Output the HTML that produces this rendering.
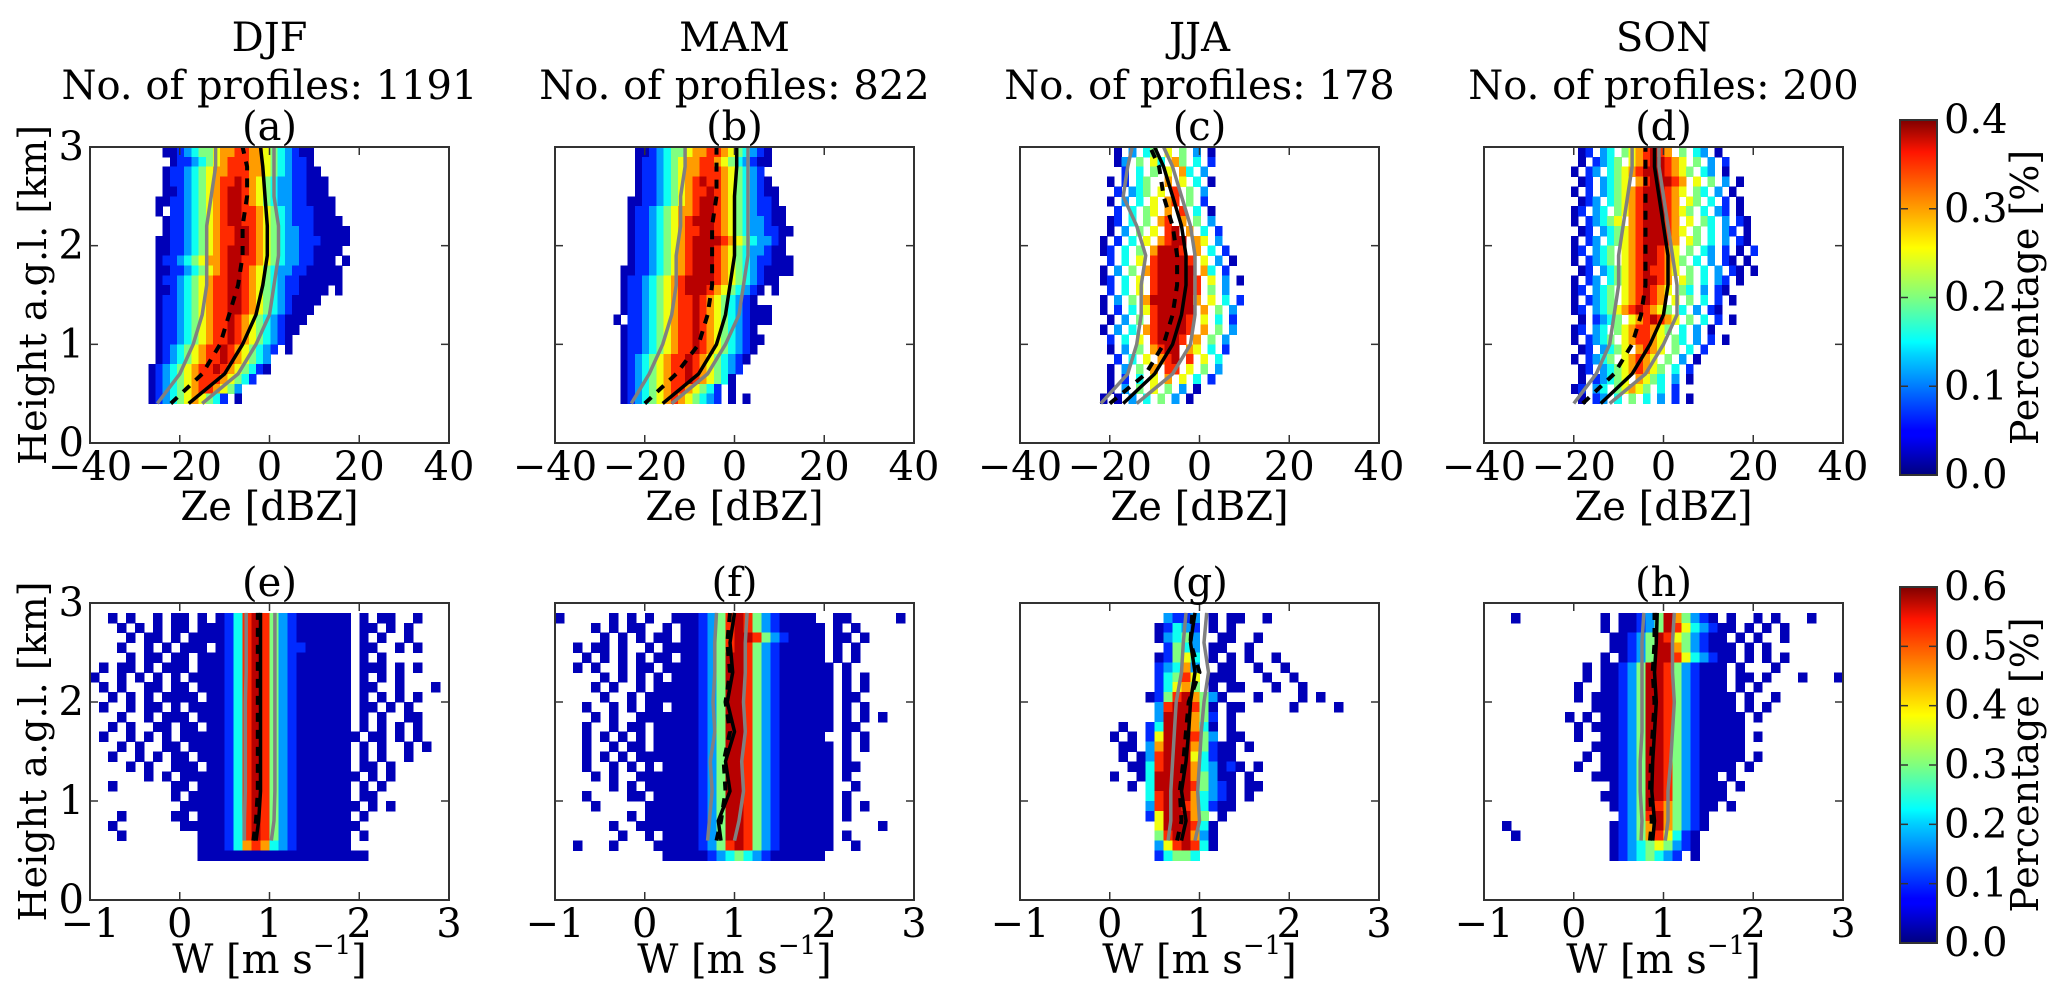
<!DOCTYPE html>
<html><head><meta charset="utf-8"><style>
html,body{margin:0;padding:0;background:#fff;}
svg{display:block;font-family:"DejaVu Serif","Liberation Serif",serif;}
</style></head><body>
<svg id="fig" width="2067" height="1000" viewBox="0 0 2067 1000" xmlns="http://www.w3.org/2000/svg">
<defs>
<linearGradient id="jet" x1="0" y1="1" x2="0" y2="0">
<stop offset="0" stop-color="#00007f"/><stop offset="0.11" stop-color="#0000ff"/><stop offset="0.125" stop-color="#0000ff"/>
<stop offset="0.34" stop-color="#00d4ff"/><stop offset="0.375" stop-color="#00ffff"/><stop offset="0.5" stop-color="#7fff7f"/>
<stop offset="0.64" stop-color="#ffff00"/><stop offset="0.91" stop-color="#ff1400"/><stop offset="1" stop-color="#7f0000"/>
</linearGradient>
</defs>
</svg>
<script>
// ---- data ----
const seasons = ["DJF","MAM","JJA","SON"];
const profileCounts = [1191, 822, 178, 200];
const topLetters = ["(a)","(b)","(c)","(d)"];
const botLetters = ["(e)","(f)","(g)","(h)"];
const zeTicks = [-40,-20,0,20,40];
const zeTickLabels = ["\u221240","\u221220","0","20","40"];
const wTicks = [-1,0,1,2,3];
const wTickLabels = ["\u22121","0","1","2","3"];
const hTicks = [0,1,2,3];
const cbTicksTop = ["0.0","0.1","0.2","0.3","0.4"];
const cbTicksBot = ["0.0","0.1","0.2","0.3","0.4","0.5","0.6"];
// heatmap rows, top (2.9 km) to bottom (0.4 km); Ze bins 1.6 dBZ from -35; level 1..9
const zeGridA = [
".......112345567788776543211............",
"........12234567888776543221............",
".......1223456778887765432211...........",
".......12234567889876543322111..........",
".......11234567899876543322111..........",
"......1122345678998765433221111.........",
"......1.22345678998876543222111.........",
".......1223456789988765432221111........",
".......12234567889987654332211111.......",
"......112234567889987654332221111.......",
"......11223456789998765433221111........",
"......1223456778998876543322111.1.......",
"......11223456789987654332211111.......",
"......12234567889987654322111111.......",
"......112345678899876543221111.1........",
"......12234567889987654321111...........",
"......1223456788998765432111............",
"......122345678898765432111.............",
"......12234567889876543211..............",
"......1223456788987654321...............",
"......12345678898765432.1...............",
"......1234567889876543..................",
".....12345678898765421..................",
".....123456788876542....................",
".....1234567887653......................",
".....12345676542.1......................"];
const zeGridB = [
"........1123455677887654321.............",
"........1223456778876543211.............",
"........122345677888765432..............",
"........1223456789887654321.............",
"........12234567889876543211............",
".......112234567899876543221............",
".......1223456778998765432211...........",
".......1223456789998765433211...........",
".......12234567889987654332211..........",
".......1223456789999876543321...........",
".......1223456789998765433211...........",
".......12234567899987654322111..........",
"......112234567899987654321111..........",
"......1223456789999876543211............",
"......12234567899987654321.1............",
"......1223456788987654321...............",
"......122345678898765432111.............",
".....1.22345678898765432111.............",
"......1223456788987654321...............",
"......12234567889876543211..............",
"......1223456788987654321...............",
"......123456788987654321................",
"......12345678898765432.................",
"......1234567889876541..................",
"......12345678876542.1..................",
"......12345678765432.1.1................"];
const zeGridC = [
"..........1.3.45.6.5.3.1................",
"..........13.5.64.75.4.2................",
"...........2.4.5.6.74.3.................",
".........1.2.45..7.6.4.1................",
"..........2.345.6.8.5.3.................",
".........1.3.4.6.78.5.2.................",
"..........2.4.56.7.8.4.1................",
".........12.4.5.78.7.5.3................",
".........1.3.5.6.89.7.4.2...............",
"........1.2.4.6.7899.76.3...............",
"........12.4.5.79998.7.4.2..............",
".........2.4.6.899998.6.3.1.............",
"........1.3.5.7899999.74.2..............",
"........12.4.6.8999998.6.3.1............",
".........2.4.6.8999998.5.3..............",
"........1.3.5.79999997.6.4.2............",
"........1.2.4.6899999.7.5.3.............",
".........1.3.5.899998.6.4.2.............",
"........1.3.4.7899998.7.5.3.............",
".........2.4.6.89998.7.5.3..............",
".........1.3.5.7899.76.4.2..............",
"..........2.4.6.789.8.6.4...............",
".........1.3.5.7.88.6.5.3...............",
".........1.2.4.6.7.6.4.2................",
".........1.3.5.6.5.3.1..................",
"........1.1.3.4.5.3.1..................."];
const zeGridD = [
"..........12.34.5678987.5.43.1..........",
"..........1.2345.67899876.5.3.2.........",
".........1.23.456789998765.43.1.........",
"..........12.3456.7899987.6.5.3.1.......",
".........1.2.345678999876.54.3.1........",
"..........123.4567899987.65.4.2.1.......",
".........12.34.56789998765.4.32.1.......",
".........1.23456.7899987.6.54.3.21......",
"..........12.345678999876.5.4.32.1......",
".........1.23.4567899987.65.4.3.21......",
".........12.345.67899876.5.43.2.1.2.....",
".........1.2345.678998765.4.3.21.1......",
"..........12.34567898876.5.4.3.21.1.....",
".........1.23.456789987.65.4.32.1.......",
".........12.345.6789876.54.3.21.........",
".........1.2345.678987.6.5.4.2.1........",
".........12.34567898765.4.3.21..........",
"..........1.2345.6789876.5.4.2.1........",
".........12.34.56788765.4.3.1...........",
".........1.2345.678876.54.3.2.1.........",
"..........12.3456.7876.5.4.2............",
".........1.2345.67876.5.3.1.............",
"..........12.345678765.4.2..............",
"..........1.23456.7654.3.1..............",
".........12.34.56765.4.2................",
"..........1.23.4.5.4.3.2.1.............."];
// W grids: rows 2.8 km down to 0.4 km; bins 0.1 m/s from -1
const wGridE = [
"..1.1..1.11.1.124898532111111.1.11..1...",
"...1.1.1.11.11124898532111111.11.1.1....",
"....1.11.1.111124898532111111.1.1..1....",
"...1..1.1.111.124898532211111.11..1.1...",
"....1.11.11.11124898532111111.1.1.......",
".1.11.1.111.11124898532111111.111.1.1...",
"1..1.1.1.1.111124898532111111.1.1.1.....",
".1.1..11.11.11124898532111111.11..1...1.",
"..1.1.1.1111.1124898532111111.1.1.1.1...",
".1..1.11.1.111124898532111111.11.1.1....",
"...1..1.111.11124898532111111.1.1..11...",
"..1.1..11.11.1124898532111111.1.1.1.1...",
".1..1.1.1.11111248985321111111.11.1.1...",
"...1.1..11.111124898532111111.1.1..1.1..",
"..1..1.1.11.11124898532111111.1.1..1....",
"....1.1..111.1124898532111111.11.1......",
"......1.1.11111248985321111111.1.1......",
"..1......11.11124898532111111.1.1.......",
".........1.111124898532111111.11........",
"..........11111248985321111111.1.1......",
"...1.....11.11124898532111111.1.........",
"..1.......11111248985321111111..........",
"...1........11124898532111111.1.........",
"............11124787432111111...........",
"............1111111111111111111........."];
const wGridF = [
"1.....1.1.1..1112358985321111..11.....1.",
"....1.1.11..1.1123589853211111.1.1......",
".....1.1.1.11.1123589985321111.11.1.....",
"..1.11.1..1.111123589853211111.1.1......",
"...1.1.1.1.11.1123599853211111.1.1......",
"..1.1..1.11.1111235998532111111.1.......",
".....1.1.1.1.111235998532111111.1.1.....",
"....1.1..1.11111235998532111111.1.1.....",
".....1..1.111111235998532111111.11......",
"...1..1.1.11.111235998532111111.1.1.....",
"....1.1..1111111235998532111111.1.1.1...",
"...1..1.11.11111235998532111111.11......",
"...1.1.1.1.1111123599853211111..1.1.....",
"...1..1.11.11111235998532111111.1.1.....",
"...1.1.1.1111111235998532111111.1.......",
"...1..1.1.1.1111235998532111111.11......",
"....1.1..1111111235998532111111.1.......",
"......1.1.111111235998532111111..1......",
"...1....11.11111235998532111111.1.......",
"....1.....111111235998532111111.1.1.....",
"........1.111111235998532111111.1.......",
"......1..1111111235998532111111.....1...",
".......1..1.1111235998532111111.1.......",
"..1...1....11111235898532111111..1......",
"............111112345432111111.........."];
const wGridG = [
"................3223.1.11..1............",
"...............12432.1.1................",
"...............13453..11..1.............",
"................2543.11..1..............",
"...............12564.1.1.1..1...........",
"...............23473..11..1..1..........",
"...............24586.111...1..1.........",
"...............24675.1.11...1..1........",
"..............125897531...1....1.1......",
"...............3899851.11.....1....1....",
"...............3999752.1................",
"...........1..24999741.1................",
"..........1.1.26999853.11...............",
"...........11.3799975211.1..............",
"...........1.13899964211................",
"............1148999743121.1.............",
"..........1..14999975311.1..............",
"............1.4999985321.11.............",
"..............4899974321.1..............",
"..............3899874211................",
"..............2699975.1.................",
"...............6999841..................",
"...............5899731..................",
"...............3689841..................",
"...............24554...................."];
const wGridH = [
"...1.........1.11235975321.1..1.1...1...",
".............1.1123598643211.1.1.1......",
"..............1123598653211.1.1..1......",
"..............11235997532111.1.1........",
".............1.1235998643211.1.1.1......",
"...........1.11235998532111.1...1.......",
"...........1.11235998532111.11.1...1...1",
"..........1..11235998532111.1.1.........",
"..........1.1112359985321111.1..1.......",
"............1112359985321111.1.1........",
".........1.1.1123599853211111.1.........",
"..........1.11123599853211111...........",
"..........1..1123599853211111.1.........",
"............11123599853211111...........",
"...........1.1123599853211111.1.........",
"..........1..112359985321111.1..........",
"............11123599853211.1............",
"..............1235998532111.1...........",
".............11235998532111.............",
"..............123598753211.1............",
"...............2358975321...............",
"..1...........12357975321...............",
"...1..........1235786421................",
"..............1234565321................",
"..............12345432.1................"];
// profile lines (heights in km)
const zeLineHeights = [0.4,0.7,1.0,1.3,1.6,1.9,2.2,2.5,2.8,3.0];
const zeMean = [
 [-18,-10,-6,-3,-1.5,-0.5,-0.5,-1,-1.5,-2],
 [-16,-8,-4,-2,-1,0,0,0,0.5,0.5],
 [-17,-10,-6,-4,-3,-3,-4,-6,-8,-10],
 [-14,-7,-3,0,1,1,0,-1,-2,-2]];
const zeMedian = [
 [-22,-15,-11,-9,-7,-6,-6,-5,-5,-6],
 [-20,-13,-8,-6,-5,-5,-5,-4,-4,-4],
 [-20,-12,-8,-6,-5,-5,-6,-8,-9,-11],
 [-18,-11,-7,-5,-4,-4,-4,-4,-4,-4]];
const zeP25 = [
 [-25,-20,-17,-15,-14,-14,-14,-13,-12,-12],
 [-23,-19,-16,-14,-13,-13,-12,-12,-11,-11],
 [-22,-16,-14,-13,-13,-12,-14,-17,-16,-15],
 [-20,-15,-12,-11,-10,-10,-9,-8,-7,-7]];
const zeP75 = [
 [-15,-7,-3,0,1,2,2,1,1,1],
 [-14,-6,-2,1,2,3,3,3,3,3],
 [-14,-6,-2,-1,-1,-1,-2,-4,-6,-8],
 [-12,-4,0,3,3,2,1,0,-1,-1]];
const wLineHeights = [0.6,0.8,1.1,1.4,1.7,2.0,2.3,2.6,2.9];
const wMean = [
 [0.85,0.88,0.9,0.9,0.9,0.9,0.9,0.9,0.9],
 [0.85,0.82,0.95,0.9,1.0,0.92,0.98,0.95,1.0],
 [0.8,0.85,0.8,0.85,0.88,0.9,0.95,0.9,0.95],
 [0.88,0.9,0.87,0.88,0.9,0.92,0.9,0.92,0.93]];
const wMedian = [
 [0.82,0.85,0.87,0.87,0.87,0.87,0.87,0.87,0.87],
 [0.8,0.85,0.9,0.88,0.95,0.9,0.95,0.92,0.95],
 [0.75,0.8,0.78,0.82,0.85,0.88,1.0,0.9,0.92],
 [0.85,0.87,0.85,0.86,0.88,0.9,0.88,0.9,0.9]];
const wP25 = [
 [0.72,0.72,0.73,0.73,0.73,0.73,0.74,0.74,0.74],
 [0.7,0.72,0.75,0.73,0.78,0.76,0.78,0.78,0.8],
 [0.65,0.68,0.68,0.7,0.72,0.74,0.8,0.82,0.85],
 [0.75,0.76,0.74,0.74,0.76,0.76,0.76,0.76,0.78]];
const wP75 = [
 [1.02,1.05,1.06,1.06,1.06,1.06,1.06,1.06,1.06],
 [1.0,1.05,1.1,1.08,1.12,1.1,1.12,1.12,1.14],
 [0.95,1.0,0.98,1.0,1.02,1.05,1.1,1.05,1.08],
 [1.02,1.05,1.05,1.08,1.1,1.12,1.1,1.1,1.12]];

// ---- drawing ----
const NS = "http://www.w3.org/2000/svg";
const svg = document.getElementById('fig');
function mk(tag, attrs, parent){ const e=document.createElementNS(NS,tag); for(const k in attrs) e.setAttribute(k,attrs[k]); (parent||svg).appendChild(e); return e; }
function clamp(v){return Math.max(0,Math.min(1,v));}
function jet(v){ const r=clamp(1.5-Math.abs(4*v-3)), g=clamp(1.5-Math.abs(4*v-2)), b=clamp(1.5-Math.abs(4*v-1)); return `rgb(${Math.round(r*255)},${Math.round(g*255)},${Math.round(b*255)})`; }
function txt(s,x,y,size,anchor,parent,name){ const t=mk('text',{x:x,y:y,'font-size':size,'text-anchor':anchor||'middle','dominant-baseline':'central',fill:'#000'},parent); t.textContent=s;
 
 
 return t; }

const lefts=[90,555,1020,1484], PW=359;
const rows=[{top:147,bot:443,xmin:-40,xmax:40,cx0:-35,ticks:zeTicks,labels:zeTickLabels,xlabel:"Ze [dBZ]",grids:[zeGridA,zeGridB,zeGridC,zeGridD],startH:2.9,dx:1.6,hs:zeLineHeights,lines:[zeP25,zeP75,zeMean,zeMedian],letters:topLetters},
            {top:603,bot:900,xmin:-1,xmax:3,cx0:-1,ticks:wTicks,labels:wTickLabels,xlabel:"W",grids:[wGridE,wGridF,wGridG,wGridH],startH:2.8,dx:0.1,hs:wLineHeights,lines:[wP25,wP75,wMean,wMedian],letters:botLetters}];

rows.forEach((R,ri)=>{
 for(let p=0;p<4;p++){
  const L=lefts[p];
  const g=mk('g',{});
  
  
  const X=v=>L+(v-R.xmin)/(R.xmax-R.xmin)*PW;
  const Y=v=>R.bot-(v/3)*(R.bot-R.top);
  const cg=mk('g',{'shape-rendering':'crispEdges'},g);
  
  
  R.grids[p].forEach((row,k)=>{
   const h0=R.startH-0.1*k;
   for(let c=0;c<row.length;c++){
    const ch=row[c]; if(ch<'1'||ch>'9') continue;
    const lv=+ch, x0=R.cx0+c*R.dx;
    const r=mk('rect',{x:X(x0),y:Y(h0+0.1),width:X(x0+R.dx)-X(x0)+0.5,height:Y(h0)-Y(h0+0.1)+0.5,fill:jet((lv-0.5)/9)},cg);
    
    
   }
  });
  const styles=[{s:'#808080',w:3.5,d:''},{s:'#808080',w:3.5,d:''},{s:'#000',w:3.5,d:''},{s:'#000',w:4,d:'9,8'}];
  const names=['p25-line','p75-line','mean-line','median-line'];
  R.lines.forEach((set,li)=>{
   const vals=set[p]; let d='';
   vals.forEach((v,i)=>{ d+=(i?'L':'M')+X(v).toFixed(1)+','+Y(R.hs[i]).toFixed(1); });
   const pl=mk('path',{d:d,fill:'none',stroke:styles[li].s,'stroke-width':styles[li].w,'stroke-dasharray':styles[li].d,'stroke-linejoin':'round'},g);
   
   
  });
  const fr=mk('rect',{x:L,y:R.top,width:PW,height:R.bot-R.top,fill:'none',stroke:'#333','stroke-width':2},g);
  
  
  R.ticks.forEach((t,i)=>{
   const x=X(t);
   mk('line',{x1:x,y1:R.bot,x2:x,y2:R.bot-8,stroke:'#333','stroke-width':1.5},g);
   mk('line',{x1:x,y1:R.top,x2:x,y2:R.top+8,stroke:'#333','stroke-width':1.5},g);
   txt(R.labels[i],x,R.bot+24,40,'middle',g,'x-tick-label');
  });
  hTicks.forEach(t=>{
   const y=Y(t);
   mk('line',{x1:L,y1:y,x2:L+8,y2:y,stroke:'#333','stroke-width':1.5},g);
   mk('line',{x1:L+PW,y1:y,x2:L+PW-8,y2:y,stroke:'#333','stroke-width':1.5},g);
   if(p===0) txt(String(t),L-6,y,40,'end',g,'y-tick-label');
  });
  const cx=L+PW/2;
  if(ri===0) txt(R.xlabel,cx,R.bot+64,40,'middle',g,'x-axis-title');
  else {
   const t=txt('',cx,R.bot+60,40,'middle',g,'x-axis-title');
   t.innerHTML='W [m s<tspan dy="-14" font-size="26">\u22121</tspan><tspan dy="14">]</tspan>';
  }
  txt(R.letters[p],cx,R.top-20,40,'middle',g,'panel-letter');
  if(ri===0){
   txt(seasons[p],cx,38,40,'middle',g,'season-title');
   txt('No. of profiles: '+profileCounts[p],cx,86,40,'middle',g,'profile-count');
  }
  if(p===0){
   const yl=txt('Height a.g.l. [km]',0,0,38,'middle',g,'y-axis-title');
   yl.setAttribute('transform',`translate(33,${(R.top+R.bot)/2}) rotate(-90)`);
  }
 }
});
[{top:120,bot:475,labels:cbTicksTop},{top:587,bot:943,labels:cbTicksBot}].forEach((C,i)=>{
 const g=mk('g',{});
 
 
 mk('rect',{x:1900,y:C.top,width:37,height:C.bot-C.top,fill:'url(#jet)',stroke:'#333','stroke-width':2},g);
 const n=C.labels.length-1;
 C.labels.forEach((s,k)=>{
  const y=C.bot-(C.bot-C.top)*k/n;
  mk('line',{x1:1937,y1:y,x2:1929,y2:y,stroke:'#333','stroke-width':1.5},g);
  mk('line',{x1:1900,y1:y,x2:1908,y2:y,stroke:'#333','stroke-width':1.5},g);
  txt(s,1944,y,40,'start',g,'colorbar-tick-label');
 });
 const t=txt('Percentage [%]',0,0,38,'middle',g,'colorbar-title');
 t.setAttribute('transform',`translate(2025,${(C.top+C.bot)/2}) rotate(-90)`);
});
</script>
</body></html>
